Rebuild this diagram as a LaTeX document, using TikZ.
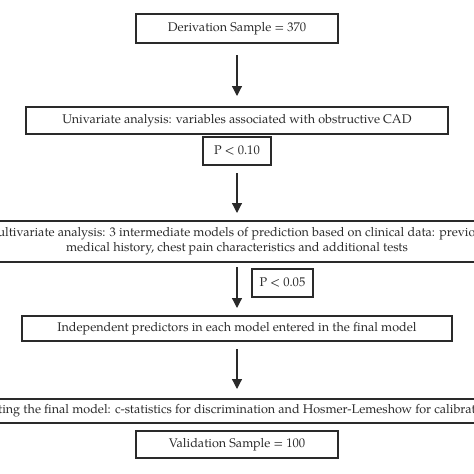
\documentclass[tikz,border=0pt]{standalone}
\usepackage{fontspec}
\setmainfont{TeX Gyre Pagella}
\usetikzlibrary{arrows.meta}
\definecolor{ink}{HTML}{2A2A2A}
\tikzset{
  box/.style={draw=ink, line width=1.4pt, text=ink, font=\fontsize{12.6}{15}\selectfont, inner sep=0pt, align=center, anchor=center},
  flow/.style={draw=ink, line width=1.2pt, -{Triangle[width=10pt,length=10pt]}}
}
\begin{document}
\begin{tikzpicture}[x=1pt,y=-1pt]
\useasboundingbox (0,0) rectangle (474,474);
\node[box, minimum width=202pt, minimum height=29pt] (b1) at (237,28.5) {Derivation Sample = 370};
\node[box, minimum width=422pt, minimum height=27pt] (b2) at (237,120.5) {Univariate analysis: variables associated with obstructive CAD};
\node[box, minimum width=68pt, minimum height=28pt] (p1) at (237,151) {P < 0.10};
\node[box, minimum width=520pt, minimum height=41pt] (b3) at (237,241.5) {Multivariate analysis: 3 intermediate models of prediction based on clinical data: previous\\medical history, chest pain characteristics and additional tests};
\node[box, minimum width=61pt, minimum height=28pt] (p2) at (282.5,283) {P < 0.05};
\node[box, minimum width=430pt, minimum height=25pt] (b4) at (237,328.5) {Independent predictors in each model entered in the final model};
\node[box, minimum width=540pt, minimum height=24pt] (b5) at (237,411) {Testing the final model: c-statistics for discrimination and Hosmer-Lemeshow for calibration};
\node[box, minimum width=202pt, minimum height=27pt] (b6) at (237,444.5) {Validation Sample = 100};
\coordinate (a1s) at (237,55); \coordinate (a1e) at (237,96);
\coordinate (a2s) at (237,173); \coordinate (a2e) at (237,213);
\coordinate (a3s) at (237,267); \coordinate (a3e) at (237,308);
\coordinate (a4s) at (237,349); \coordinate (a4e) at (237,389);
\draw[flow] (a1s) -- (a1e);
\draw[flow] (a2s) -- (a2e);
\draw[flow] (a3s) -- (a3e);
\draw[flow] (a4s) -- (a4e);
\end{tikzpicture}
\end{document}
